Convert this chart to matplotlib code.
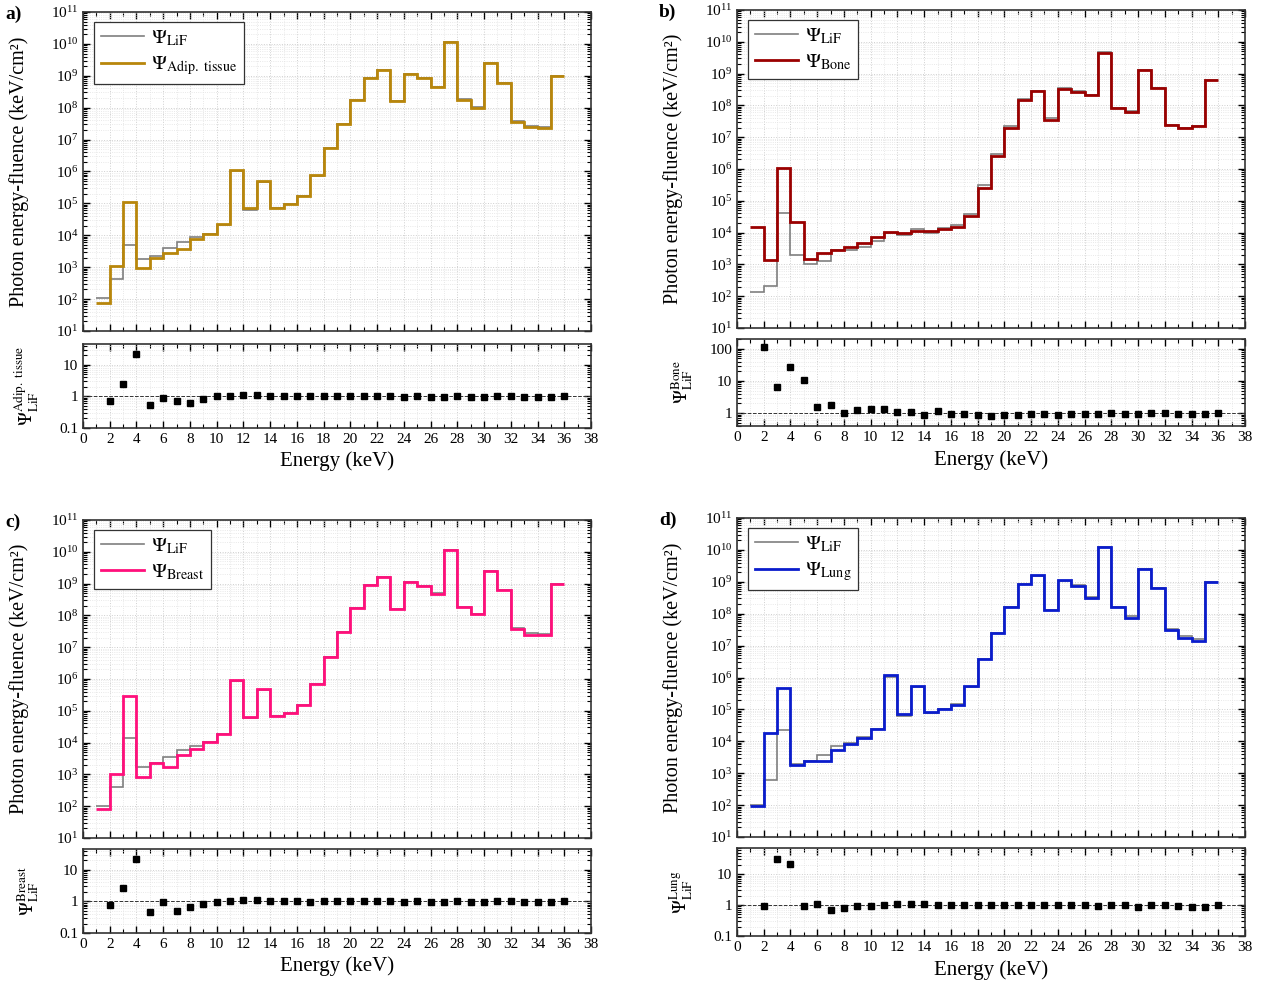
import numpy as np
import matplotlib
matplotlib.use('Agg')
import matplotlib.pyplot as plt
from matplotlib.ticker import MultipleLocator, LogLocator, FixedLocator, FixedFormatter, NullFormatter

plt.rcParams['font.family'] = 'Liberation Serif'
plt.rcParams['mathtext.fontset'] = 'stix'

# energy bins (keV), value at E covers (E-1, E]
energy = np.arange(2, 37)

# a) adipose tissue
lif_a = [110, 420, 5100, 1850, 2300, 3900, 6000, 9100, 1.1e4, 2.15e4, 1.0e6, 6.4e4, 4.8e5, 7.2e4,
         9.7e4, 1.75e5, 7.3e5, 5.4e6, 3.0e7, 1.8e8, 8.7e8, 1.5e9, 1.63e8, 1.1e9, 8.5e8, 4.6e8,
         1.15e10, 1.85e8, 1.05e8, 2.6e9, 6.0e8, 3.7e7, 2.7e7, 2.4e7, 1.0e9]
adip = [78, 1070, 1.1e5, 970, 2000, 2800, 3700, 7600, 1.1e4, 2.2e4, 1.1e6, 7.0e4, 5.0e5, 7.3e4,
        9.7e4, 1.75e5, 7.7e5, 5.4e6, 3.0e7, 1.8e8, 8.7e8, 1.5e9, 1.6e8, 1.1e9, 8.3e8, 4.4e8,
        1.15e10, 1.8e8, 1.0e8, 2.6e9, 6.0e8, 3.6e7, 2.5e7, 2.3e7, 1.0e9]
ratio_a = [0.7, 2.5, 21, 0.52, 0.88, 0.72, 0.62, 0.83, 1.0, 1.02, 1.1, 1.1, 1.05, 1.02, 1.0, 1.0,
           1.05, 1.0, 1.0, 1.0, 1.0, 1.0, 0.98, 1.0, 0.98, 0.95, 1.0, 0.98, 0.95, 1.0, 1.0, 0.97,
           0.93, 0.95, 1.0]

# b) bone
lif_b = [135, 215, 4.0e4, 2000, 1000, 1300, 2750, 2800, 3550, 5400, 9500, 8600, 1.3e4, 9500,
         1.37e4, 1.7e4, 3.8e4, 3.25e5, 3.05e6, 2.3e7, 1.58e8, 2.9e8, 4.0e7, 3.4e8, 2.9e8, 2.2e8,
         4.7e9, 8.4e7, 6.5e7, 1.3e9, 3.4e8, 2.5e7, 2.0e7, 2.3e7, 6.3e8]
bone = [1.45e4, 1330, 1.09e6, 2.2e4, 1500, 2250, 2750, 3600, 4600, 7500, 1.05e4, 9500, 1.1e4,
        1.1e4, 1.3e4, 1.55e4, 3.3e4, 2.6e5, 2.6e6, 2.0e7, 1.5e8, 2.8e8, 3.6e7, 3.2e8, 2.7e8, 2.1e8,
        4.6e9, 8.0e7, 6.0e7, 1.3e9, 3.4e8, 2.4e7, 1.9e7, 2.2e7, 6.3e8]
ratio_b = [110, 6.3, 27, 11, 1.5, 1.75, 1.0, 1.28, 1.3, 1.38, 1.1, 1.1, 0.85, 1.15, 0.95, 0.92,
           0.87, 0.8, 0.85, 0.87, 0.95, 0.97, 0.9, 0.95, 0.93, 0.95, 0.98, 0.95, 0.93, 1.0, 1.0,
           0.97, 0.95, 0.97, 1.0]

# c) breast
lif_c = [105, 395, 1.4e4, 1730, 2300, 3500, 5900, 7700, 1.08e4, 1.8e4, 8.5e5, 5.9e4, 4.6e5, 7.0e4,
         8.8e4, 1.53e5, 7.0e5, 5.0e6, 3.0e7, 1.7e8, 8.8e8, 1.6e9, 1.63e8, 1.1e9, 8.6e8, 5.0e8,
         1.15e10, 1.84e8, 1.13e8, 2.5e9, 6.1e8, 3.9e7, 2.7e7, 2.6e7, 1.0e9]
breast = [80, 1060, 3.0e5, 830, 2250, 1770, 4000, 6300, 1.05e4, 1.8e4, 9.4e5, 6.5e4, 4.8e5, 7.1e4,
          8.8e4, 1.5e5, 7.1e5, 5.0e6, 3.0e7, 1.7e8, 8.8e8, 1.6e9, 1.6e8, 1.1e9, 8.4e8, 4.8e8,
          1.15e10, 1.8e8, 1.07e8, 2.5e9, 6.1e8, 3.8e7, 2.5e7, 2.5e7, 1.0e9]
ratio_c = [0.78, 2.7, 22, 0.48, 0.97, 0.5, 0.68, 0.82, 0.97, 1.0, 1.1, 1.1, 1.05, 1.02, 1.0, 0.98,
           1.02, 1.0, 1.0, 1.0, 1.0, 1.0, 0.98, 1.0, 0.98, 0.95, 1.0, 0.98, 0.95, 1.0, 1.0, 0.97,
           0.93, 0.95, 1.0]

# d) lung
lif_d = [104, 620, 2.2e4, 1910, 2380, 3600, 6900, 9000, 1.4e4, 2.35e4, 1.06e6, 6.4e4, 5.1e5, 7.8e4,
         1.0e5, 1.43e5, 5.2e5, 3.8e6, 2.5e7, 1.63e8, 8.7e8, 1.57e9, 1.34e8, 1.08e9, 7.7e8, 3.4e8,
         1.23e10, 1.65e8, 8.4e7, 2.6e9, 6.3e8, 3.4e7, 1.95e7, 1.6e7, 9.8e8]
lung = [97, 1.85e4, 4.7e5, 1780, 2500, 2500, 5500, 8300, 1.3e4, 2.4e4, 1.17e6, 7.0e4, 5.4e5, 8.0e4,
        1.0e5, 1.4e5, 5.4e5, 3.7e6, 2.5e7, 1.6e8, 8.7e8, 1.6e9, 1.3e8, 1.1e9, 7.5e8, 3.1e8,
        1.23e10, 1.6e8, 7.4e7, 2.6e9, 6.3e8, 3.1e7, 1.7e7, 1.4e7, 1.0e9]
ratio_d = [0.93, 30, 21, 0.93, 1.05, 0.7, 0.8, 0.92, 0.93, 1.02, 1.1, 1.1, 1.05, 1.03, 1.0, 0.98,
           1.03, 0.98, 1.0, 0.98, 1.0, 1.02, 0.97, 1.02, 0.97, 0.9, 1.0, 0.97, 0.88, 1.0, 1.0,
           0.92, 0.87, 0.88, 1.02]

W, H = 1262, 985


def rect(left, top, right, bottom):
    return [left / W, 1 - bottom / H, (right - left) / W, (bottom - top) / H]


def style_axes(ax):
    ax.set_xlim(0, 38)
    ax.xaxis.set_major_locator(MultipleLocator(2))
    ax.xaxis.set_minor_locator(MultipleLocator(1))
    ax.tick_params(which='both', direction='in', top=True, right=True, labelsize=11)
    ax.tick_params(which='major', length=5, width=1)
    ax.tick_params(which='minor', length=3, width=0.8)
    ax.grid(True, which='major', color='#cfcfcf', linestyle=':', linewidth=0.7)
    ax.grid(True, which='minor', color='#e2e2e2', linestyle=':', linewidth=0.6)
    ax.set_axisbelow(True)
    for s in ax.spines.values():
        s.set_linewidth(1.2)
        s.set_color('#333333')


def draw_panel(fig, letter, main_box, ratio_box, lif, tissue, ratio, color, name,
               ratio_ylim, ratio_ticks, ratio_labels):
    ax = fig.add_axes(rect(*main_box))
    edges = np.append(energy[0] - 1, energy)
    tex_name = name.replace(' ', r'\ ')
    ax.stairs(lif, edges, baseline=None, color='#7f7f7f', linewidth=1.2,
              label=r'$\Psi_{\rm LiF}$')
    ax.stairs(tissue, edges, baseline=None, color=color, linewidth=2.0,
              label=r'$\Psi_{\rm ' + tex_name + '}$')
    ax.set_yscale('log')
    ax.set_ylim(10, 1e11)
    ax.yaxis.set_major_locator(LogLocator(base=10, numticks=20))
    ax.yaxis.set_minor_locator(LogLocator(base=10, subs=np.arange(2, 10), numticks=20))
    ax.yaxis.set_minor_formatter(NullFormatter())
    style_axes(ax)
    ax.tick_params(labelbottom=False)
    ax.set_ylabel('Photon energy-fluence (keV/cm²)', fontsize=14.5)
    ax.yaxis.set_label_coords(-0.107, 0.5)
    leg = ax.legend(loc='upper left', bbox_to_anchor=(0.022, 0.97), borderaxespad=0,
                    fontsize=14.5, fancybox=False, framealpha=1, edgecolor='#333333',
                    handlelength=2.1, handletextpad=0.35, labelspacing=0.3, borderpad=0.35)
    leg.get_frame().set_linewidth(0.9)

    rx = fig.add_axes(rect(*ratio_box))
    rx.axhline(1, color='#333333', linestyle='--', linewidth=0.7, zorder=1)
    rx.plot(energy, ratio, 's', color='black', markersize=4, zorder=3)
    rx.set_yscale('log')
    rx.set_ylim(*ratio_ylim)
    rx.yaxis.set_major_locator(FixedLocator(ratio_ticks))
    rx.yaxis.set_major_formatter(FixedFormatter(ratio_labels))
    rx.yaxis.set_minor_locator(LogLocator(base=10, subs=np.arange(2, 10), numticks=20))
    rx.yaxis.set_minor_formatter(NullFormatter())
    style_axes(rx)
    rx.set_xlabel('Energy (keV)', fontsize=15)
    rx.xaxis.set_label_coords(0.5, -0.28)
    rx.set_ylabel(r'$\Psi^{\rm ' + tex_name + r'}_{\rm LiF}$', fontsize=13.5)
    rx.yaxis.set_label_coords(-0.082, 0.5)

    fig.text((main_box[0] - 78) / W, 1 - (main_box[1] - 6) / H, letter,
             fontsize=14, fontweight='bold', va='top', ha='left')


fig = plt.figure(figsize=(12.62, 9.85), dpi=100)

draw_panel(fig, 'a)', (83, 12, 591, 331), (83, 344, 591, 428), lif_a, adip, ratio_a,
           '#b8860b', 'Adip. tissue', (0.1, 45), [0.1, 1, 10], ['0.1', '1', '10'])
draw_panel(fig, 'b)', (737, 10, 1245, 328), (737, 339, 1245, 426), lif_b, bone, ratio_b,
           '#9a0000', 'Bone', (0.4, 200), [1, 10, 100], ['1', '10', '100'])
draw_panel(fig, 'c)', (83, 520, 591, 838), (83, 849, 591, 933), lif_c, breast, ratio_c,
           '#ff0f7b', 'Breast', (0.1, 46), [0.1, 1, 10], ['0.1', '1', '10'])
draw_panel(fig, 'd)', (737, 518, 1245, 837), (737, 848, 1245, 936), lif_d, lung, ratio_d,
           '#0a1ccc', 'Lung', (0.1, 70), [0.1, 1, 10], ['0.1', '1', '10'])

fig.savefig('out.png', dpi=100)
